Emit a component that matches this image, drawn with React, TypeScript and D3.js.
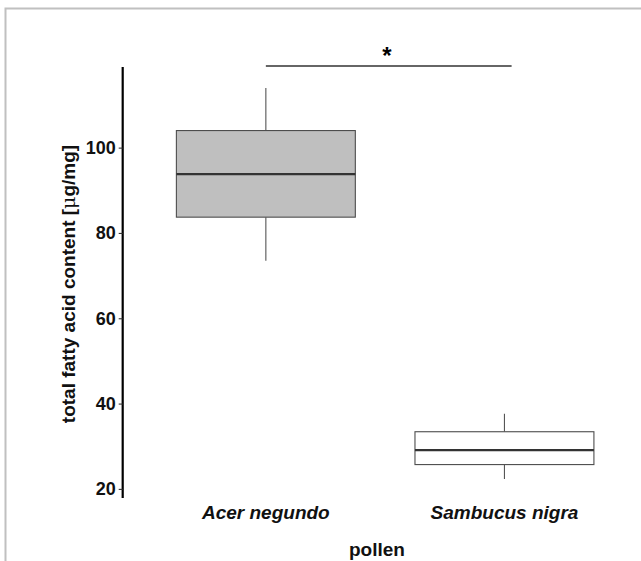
import React, { useEffect, useRef } from "react";
import * as d3 from "d3";

const categories = ["Acer negundo", "Sambucus nigra"];
const whiskerLow = [73.5, 22.3];
const q1 = [83.7, 25.7];
const median = [93.8, 29.1];
const q3 = [104.0, 33.4];
const whiskerHigh = [114.0, 37.6];
const yTicks = [20, 40, 60, 80, 100];

const App = () => {
    const ref = useRef(null);

    useEffect(() => {
        const g = d3.select(ref.current);
        g.selectAll("*").remove();

        const font = "'Liberation Sans', Arial, sans-serif";
        const boxFills = ["#bfbfbf", "#ffffff"];

        const data = categories.map((c, i) => ({
            cat: c, i: i + 1, lo: whiskerLow[i], q1: q1[i], med: median[i], q3: q3[i], hi: whiskerHigh[i]
        }));

        const xScale = d3.scaleLinear().domain([0.4, 2.6]).range([122.7, 647.6]);
        const yScale = d3.scaleLinear().domain([18.1, 118.9]).range([497, 67]);
        const boxW = xScale(0.75) - xScale(0);

        // frame around the figure
        g.append("path")
            .attr("d", "M5.5,561 V8.5 H641")
            .attr("fill", "none")
            .attr("stroke", "#c0c0c0")
            .attr("stroke-width", 2);

        // y axis
        const yAxis = d3.axisLeft(yScale).tickValues(yTicks).tickSize(4).tickPadding(3);
        const yAxisG = g.append("g")
            .attr("transform", `translate(${xScale.range()[0]},0)`)
            .call(yAxis);
        yAxisG.select(".domain")
            .attr("stroke", "#000")
            .attr("stroke-width", 2.2)
            .attr("d", `M0,${yScale.range()[0] + 1}V${yScale.range()[1]}`);
        yAxisG.selectAll(".tick line").attr("stroke", "#333").attr("stroke-width", 1.1);
        yAxisG.selectAll("text")
            .attr("font-family", font)
            .attr("font-weight", "bold")
            .attr("font-size", 18)
            .attr("fill", "#111");

        // boxes
        const box = g.selectAll(".box").data(data).enter().append("g").attr("class", "box");
        box.append("line")
            .attr("x1", d => xScale(d.i)).attr("x2", d => xScale(d.i))
            .attr("y1", d => yScale(d.hi)).attr("y2", d => yScale(d.q3))
            .attr("stroke", "#555").attr("stroke-width", 1.1);
        box.append("line")
            .attr("x1", d => xScale(d.i)).attr("x2", d => xScale(d.i))
            .attr("y1", d => yScale(d.q1)).attr("y2", d => yScale(d.lo))
            .attr("stroke", "#555").attr("stroke-width", 1.1);
        box.append("rect")
            .attr("x", d => xScale(d.i) - boxW / 2)
            .attr("y", d => yScale(d.q3))
            .attr("width", boxW)
            .attr("height", d => yScale(d.q1) - yScale(d.q3))
            .attr("fill", (d, i) => boxFills[i])
            .attr("stroke", "#4d4d4d")
            .attr("stroke-width", 1.1);
        box.append("line")
            .attr("x1", d => xScale(d.i) - boxW / 2).attr("x2", d => xScale(d.i) + boxW / 2)
            .attr("y1", d => yScale(d.med)).attr("y2", d => yScale(d.med))
            .attr("stroke", "#333").attr("stroke-width", 2.2);

        // category labels
        g.selectAll(".cat").data(data).enter().append("text")
            .attr("x", d => xScale(d.i))
            .attr("y", 519)
            .attr("text-anchor", "middle")
            .attr("font-family", font)
            .attr("font-weight", "bold")
            .attr("font-style", "italic")
            .attr("font-size", 19)
            .attr("fill", "#111")
            .text(d => d.cat);

        // significance bar
        g.append("line")
            .attr("x1", xScale(1)).attr("x2", xScale(2.03))
            .attr("y1", 66).attr("y2", 66)
            .attr("stroke", "#333").attr("stroke-width", 1.4);
        g.append("text")
            .attr("x", 387).attr("y", 64)
            .attr("text-anchor", "middle")
            .attr("font-family", font)
            .attr("font-weight", "bold")
            .attr("font-size", 24)
            .text("*");

        // axis titles
        g.append("text")
            .attr("x", 377).attr("y", 556)
            .attr("text-anchor", "middle")
            .attr("font-family", font)
            .attr("font-weight", "bold")
            .attr("font-size", 19)
            .attr("fill", "#111")
            .text("pollen");

        const yTitle = g.append("text")
            .attr("transform", "translate(75,284) rotate(-90)")
            .attr("text-anchor", "middle")
            .attr("font-family", font)
            .attr("font-weight", "bold")
            .attr("font-size", 19)
            .attr("fill", "#111");
        yTitle.append("tspan").text("total fatty acid content [");
        yTitle.append("tspan").attr("font-weight", "normal").attr("font-family", "'DejaVu Serif', serif").text("μ");
        yTitle.append("tspan").text("g/mg]");
    }, []);

    return (
        <svg width={641} height={561} style={{ position: "absolute", left: 0, top: 0, background: "#fff" }}>
            <g ref={ref} />
        </svg>
    );
};

export default App;
